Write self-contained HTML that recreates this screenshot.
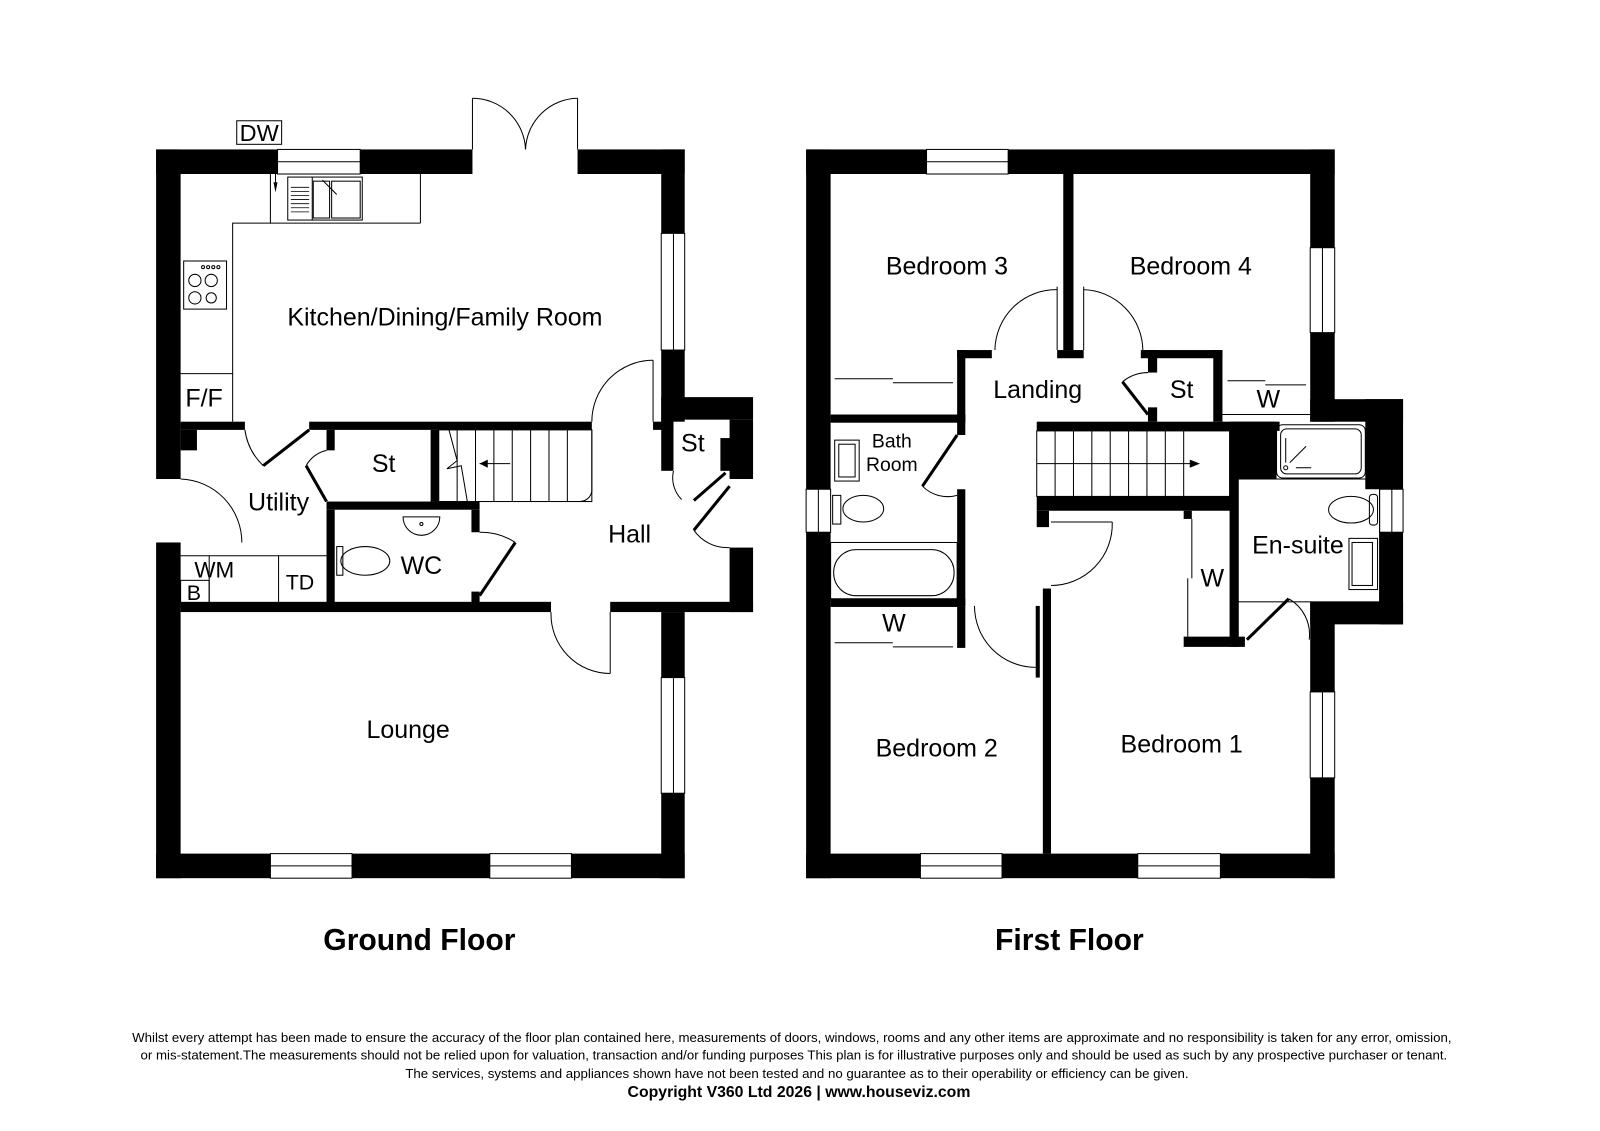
<!DOCTYPE html>
<html><head><meta charset="utf-8"><style>
html,body{margin:0;padding:0;background:#fff}
svg{display:block}
text{font-family:"Liberation Sans",Arial,sans-serif;fill:#000}
</style></head><body>
<svg width="1600" height="1131" viewBox="0 0 1568 1105" preserveAspectRatio="none" xmlns="http://www.w3.org/2000/svg">
<rect width="1568" height="1105" fill="#fff"/>
<g fill="#000">
<rect x="153" y="146" width="119" height="24"/>
<rect x="353" y="146" width="110" height="24"/>
<rect x="566" y="146" width="105" height="24"/>
<rect x="153" y="146" width="24" height="322"/>
<rect x="153" y="530" width="24" height="328"/>
<rect x="153" y="834" width="112" height="24"/>
<rect x="345" y="834" width="135" height="24"/>
<rect x="560" y="834" width="111" height="24"/>
<rect x="648" y="146" width="23" height="82"/>
<rect x="648" y="342" width="23" height="70"/>
<rect x="648" y="388" width="90" height="22"/>
<rect x="648" y="410" width="12" height="50"/>
<rect x="715" y="410" width="23" height="58"/>
<rect x="706" y="428" width="12" height="32"/>
<rect x="715" y="535" width="23" height="63"/>
<rect x="598" y="588" width="140" height="10"/>
<rect x="648" y="598" width="23" height="64"/>
<rect x="648" y="775" width="23" height="83"/>
<rect x="177" y="412" width="63" height="8"/>
<rect x="177" y="420" width="16" height="20"/>
<rect x="303" y="412" width="277" height="8"/>
<rect x="640" y="412" width="20" height="8"/>
<rect x="320" y="420" width="8" height="20"/>
<rect x="422" y="420" width="8" height="70"/>
<rect x="320" y="490" width="150" height="8"/>
<rect x="320" y="498" width="8" height="92"/>
<rect x="462" y="498" width="8" height="22"/>
<rect x="462" y="578" width="8" height="12"/>
<rect x="177" y="588" width="363" height="10"/>
<rect x="790" y="146" width="118" height="24"/>
<rect x="988" y="146" width="320" height="24"/>
<rect x="790" y="146" width="24" height="332"/>
<rect x="790" y="520" width="24" height="338"/>
<rect x="790" y="834" width="112" height="24"/>
<rect x="982" y="834" width="133" height="24"/>
<rect x="1196" y="834" width="112" height="24"/>
<rect x="1284" y="146" width="24" height="96"/>
<rect x="1284" y="325" width="24" height="87"/>
<rect x="1284" y="390" width="91" height="22"/>
<rect x="1338" y="390" width="37" height="88"/>
<rect x="1352" y="520" width="23" height="90"/>
<rect x="1284" y="588" width="91" height="22"/>
<rect x="1284" y="588" width="24" height="88"/>
<rect x="1284" y="760" width="24" height="98"/>
<rect x="1042" y="170" width="10" height="172"/>
<rect x="1036" y="342" width="26" height="8"/>
<rect x="938" y="342" width="34" height="8"/>
<rect x="938" y="342" width="8" height="70"/>
<rect x="814" y="405" width="132" height="8"/>
<rect x="938" y="405" width="8" height="20"/>
<rect x="1118" y="342" width="80" height="8"/>
<rect x="1125" y="342" width="9" height="22"/>
<rect x="1125" y="398" width="9" height="14"/>
<rect x="1189" y="342" width="9" height="70"/>
<rect x="1016" y="412" width="238" height="9"/>
<rect x="1205" y="412" width="46" height="56"/>
<rect x="1016" y="485" width="197" height="14"/>
<rect x="1016" y="499" width="12" height="16"/>
<rect x="1205" y="468" width="9" height="164"/>
<rect x="1160" y="622" width="60" height="10"/>
<rect x="1160" y="499" width="8" height="8"/>
<rect x="938" y="478" width="8" height="114"/>
<rect x="814" y="585" width="132" height="8"/>
<rect x="938" y="593" width="8" height="40"/>
<rect x="1022" y="575" width="8" height="259"/>
<rect x="1015" y="592" width="4" height="70"/>
</g>
<g fill="none" stroke="#000" stroke-width="1">
<rect x="272" y="146" width="81" height="24"/><line x1="272" y1="158" x2="353" y2="158"/>
<rect x="648" y="228" width="23" height="114"/><line x1="660" y1="228" x2="660" y2="342"/>
<rect x="648" y="662" width="23" height="113"/><line x1="660" y1="662" x2="660" y2="775"/>
<rect x="265" y="834" width="80" height="24"/><line x1="265" y1="846" x2="345" y2="846"/>
<rect x="480" y="834" width="80" height="24"/><line x1="480" y1="846" x2="560" y2="846"/>
<rect x="908" y="146" width="80" height="24"/><line x1="908" y1="158" x2="988" y2="158"/>
<rect x="790" y="478" width="24" height="42"/><line x1="802" y1="478" x2="802" y2="520"/>
<rect x="1284" y="242" width="24" height="83"/><line x1="1296" y1="242" x2="1296" y2="325"/>
<rect x="1352" y="478" width="23" height="42"/><line x1="1364" y1="478" x2="1364" y2="520"/>
<rect x="1284" y="676" width="24" height="84"/><line x1="1296" y1="676" x2="1296" y2="760"/>
<rect x="902" y="834" width="80" height="24"/><line x1="902" y1="846" x2="982" y2="846"/>
<rect x="1115" y="834" width="81" height="24"/><line x1="1115" y1="846" x2="1196" y2="846"/>
<line x1="463" y1="96" x2="463" y2="146"/><line x1="566" y1="96" x2="566" y2="146"/>
<path d="M463 96 A52 52 0 0 1 515 146"/><path d="M566 96 A52 52 0 0 0 515 146"/>
<path d="M265 170 V218 H228 V412"/><line x1="412" y1="170" x2="412" y2="218"/><line x1="265" y1="218" x2="412" y2="218"/>
<line x1="177" y1="365" x2="228" y2="365"/>
<rect x="282" y="173" width="73" height="42"/><line x1="306" y1="173" x2="306" y2="215"/>
<rect x="307" y="177" width="16" height="36"/><rect x="325" y="177" width="28" height="36"/>
<line x1="316" y1="176" x2="330" y2="190"/>
<g stroke-width="0.8"><line x1="285" y1="183" x2="303" y2="183"/><line x1="285" y1="187" x2="303" y2="187"/><line x1="285" y1="191" x2="303" y2="191"/><line x1="285" y1="195" x2="303" y2="195"/><line x1="285" y1="199" x2="303" y2="199"/><line x1="285" y1="203" x2="303" y2="203"/><line x1="285" y1="207" x2="303" y2="207"/></g>
<rect x="232" y="118" width="44" height="23"/>
<line x1="270" y1="170" x2="270" y2="185"/>
<rect x="180" y="255" width="42" height="47"/>
<circle cx="191" cy="274" r="6"/><circle cx="207" cy="274" r="6"/><circle cx="191" cy="291" r="6"/><circle cx="207" cy="291" r="5"/>
<circle cx="199" cy="261" r="1.5"/><circle cx="204" cy="261" r="1.5"/><circle cx="209" cy="261" r="1.5"/><circle cx="214" cy="261" r="1.5"/>
<path d="M177 468 A62 62 0 0 1 237 530"/>
<line x1="177" y1="543" x2="320" y2="543"/>
<line x1="205" y1="543" x2="205" y2="590"/><line x1="273" y1="543" x2="273" y2="590"/>
<rect x="177" y="567" width="28" height="23"/>
<path d="M240 420 A60 60 0 0 0 258 455"/>
<rect x="430" y="420" width="150" height="70"/>
<line x1="448" y1="420" x2="448" y2="490"/><line x1="466" y1="420" x2="466" y2="490"/><line x1="484" y1="420" x2="484" y2="490"/><line x1="502" y1="420" x2="502" y2="490"/><line x1="520" y1="420" x2="520" y2="490"/><line x1="538" y1="420" x2="538" y2="490"/><line x1="556" y1="420" x2="556" y2="490"/>
<path d="M440 420 L448 450 L438 458 L452 455 L458 490"/>
<line x1="470" y1="453" x2="500" y2="453"/>
<path d="M580 420 L580 480 A12 12 0 0 1 568 490"/>
<line x1="640" y1="352" x2="640" y2="412"/><path d="M640 352 A60 60 0 0 0 580 412"/>
<path d="M395 505 A18 18 0 0 0 431 505 Z"/><circle cx="413" cy="512" r="1.5"/>
<ellipse cx="358" cy="548" rx="24" ry="14"/><rect x="330" y="534" width="6" height="28"/>
<path d="M470 520 A62 62 0 0 1 505 530"/>
<path d="M300 455 A30 30 0 0 1 320 440"/>
<line x1="598" y1="598" x2="598" y2="658"/><path d="M540 598 A58 58 0 0 0 598 658"/>
<path d="M660 460 A30 30 0 0 0 668 488"/>
<path d="M715 535 A40 40 0 0 1 680 518"/>
<line x1="1036" y1="280" x2="1036" y2="342"/><line x1="1062" y1="280" x2="1062" y2="342"/>
<path d="M1036 283 A60 60 0 0 0 975 342"/><path d="M1062 283 A60 60 0 0 1 1120 342"/>
<line x1="818" y1="370" x2="875" y2="370"/><line x1="875" y1="374" x2="934" y2="374"/>
<line x1="1203" y1="372" x2="1240" y2="372"/><line x1="1240" y1="376" x2="1280" y2="376"/>
<line x1="1198" y1="405" x2="1284" y2="405"/>
<line x1="818" y1="628" x2="875" y2="628"/><line x1="875" y1="632" x2="934" y2="632"/>
<line x1="1168" y1="507" x2="1168" y2="565"/><line x1="1164" y1="565" x2="1164" y2="622"/>
<path d="M1125 364 A40 40 0 0 0 1100 373"/>
<rect x="1016" y="421" width="189" height="64"/>
<line x1="1034" y1="421" x2="1034" y2="485"/><line x1="1052" y1="421" x2="1052" y2="485"/><line x1="1070" y1="421" x2="1070" y2="485"/><line x1="1088" y1="421" x2="1088" y2="485"/><line x1="1106" y1="421" x2="1106" y2="485"/><line x1="1124" y1="421" x2="1124" y2="485"/><line x1="1142" y1="421" x2="1142" y2="485"/><line x1="1160" y1="421" x2="1160" y2="485"/>
<line x1="1016" y1="453" x2="1170" y2="453"/>
<rect x="818" y="430" width="24" height="40"/><rect x="822" y="434" width="16" height="32"/>
<ellipse cx="846" cy="497" rx="20" ry="13"/><rect x="816" y="484" width="8" height="28"/>
<rect x="817" y="537" width="118" height="45" rx="22"/><rect x="814" y="530" width="124" height="55"/>
<path d="M904 475 A35 35 0 0 0 938 484"/>
<line x1="1030" y1="510" x2="1090" y2="510"/><path d="M1090 510 A60 60 0 0 1 1030 572"/>
<path d="M955 592 A60 60 0 0 0 1015 652"/>
<rect x="1251" y="415" width="87" height="52" rx="6"/><rect x="1255" y="419" width="79" height="44" rx="6"/>
<line x1="1260" y1="428" x2="1260" y2="452"/><line x1="1264" y1="452" x2="1280" y2="436"/><line x1="1270" y1="457" x2="1285" y2="457"/><circle cx="1260" cy="457" r="2"/>
<rect x="1213" y="468" width="139" height="120"/>
<ellipse cx="1324" cy="498" rx="22" ry="13"/><rect x="1342" y="483" width="8" height="30" rx="3"/>
<rect x="1322" y="526" width="28" height="50"/><rect x="1325" y="530" width="20" height="42"/>
<path d="M1263 585 A40 40 0 0 1 1283 625"/>
</g>
<g stroke="#000" stroke-width="3" fill="none">
<line x1="303" y1="420" x2="258" y2="455"/>
<line x1="300" y1="455" x2="320" y2="490"/>
<line x1="505" y1="530" x2="470" y2="582"/>
<line x1="711" y1="462" x2="680" y2="489"/>
<line x1="715" y1="475" x2="680" y2="518"/>
<line x1="1100" y1="373" x2="1125" y2="405"/>
<line x1="938" y1="425" x2="904" y2="475"/>
<line x1="1222" y1="625" x2="1263" y2="585"/>
</g>
<path d="M268 178 L272 178 L270 188 Z" fill="#000"/>
<path d="M470 453 L478 449 L478 457 Z" fill="#000"/>
<path d="M1176 453 L1166 449 L1166 457 Z" fill="#000"/>
<g font-size="24.5" text-anchor="middle">
<text x="436" y="318">Kitchen/Dining/Family Room</text>
<text x="273" y="499">Utility</text>
<text x="376" y="461">St</text>
<text x="617" y="530">Hall</text>
<text x="413" y="561">WC</text>
<text x="400" y="721">Lounge</text>
<text x="679" y="441">St</text>
<text x="200" y="397">F/F</text>
<text x="254" y="138" font-size="23">DW</text>
<text x="210" y="564" font-size="22">WM</text>
<text x="190" y="586" font-size="21">B</text>
<text x="294" y="576" font-size="21">TD</text>
<text x="928" y="268">Bedroom 3</text>
<text x="1167" y="268">Bedroom 4</text>
<text x="1017" y="389">Landing</text>
<text x="1158" y="389">St</text>
<text x="1243" y="398">W</text>
<text x="874" y="437" font-size="19">Bath</text>
<text x="874" y="460" font-size="19">Room</text>
<text x="1272" y="541">En-suite</text>
<text x="1188" y="573">W</text>
<text x="876" y="617">W</text>
<text x="918" y="739">Bedroom 2</text>
<text x="1158" y="735">Bedroom 1</text>
</g>
<g font-size="29.5" font-weight="bold" text-anchor="middle">
<text x="411" y="928">Ground Floor</text>
<text x="1048" y="928">First Floor</text>
</g>
<g font-size="13" text-anchor="middle">
<text x="776" y="1018">Whilst every attempt has been made to ensure the accuracy of the floor plan contained here, measurements of doors, windows, rooms and any other items are approximate and no responsibility is taken for any error, omission,</text>
<text x="778" y="1035">or mis-statement.The measurements should not be relied upon for valuation, transaction and/or funding purposes This plan is for illustrative purposes only and should be used as such by any prospective purchaser or tenant.</text>
<text x="781" y="1053">The services, systems and appliances shown have not been tested and no guarantee as to their operability or efficiency can be given.</text>
<text x="783" y="1072" font-size="15.5" font-weight="bold">Copyright V360 Ltd 2026 | www.houseviz.com</text>
</g>
</svg>
</body></html>
